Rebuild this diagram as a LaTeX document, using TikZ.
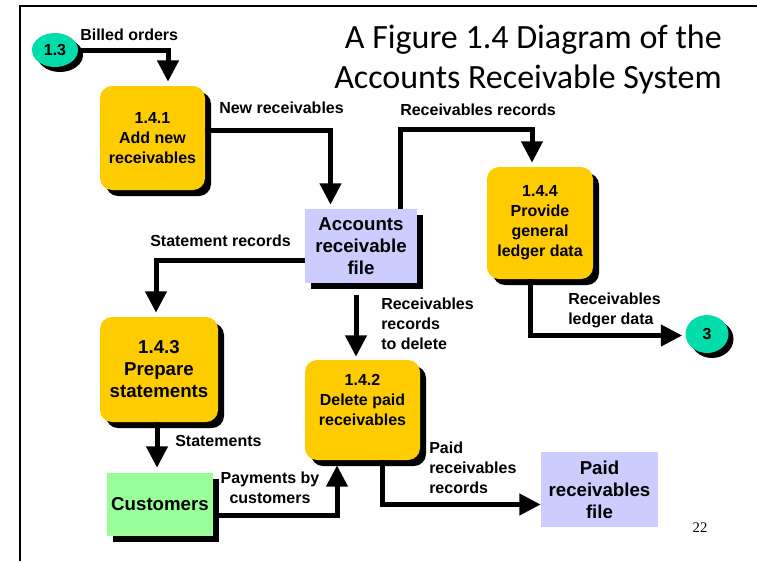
\documentclass[tikz,border=0pt]{standalone}
\usepackage{fontspec}
\setmainfont{Liberation Sans}
\newfontfamily\titlefont{Carlito}
\newfontfamily\pagefont{Liberation Serif}
\usetikzlibrary{arrows.meta,calc,shadows,shapes.geometric}
\definecolor{procyellow}{RGB}{255,204,0}
\definecolor{filelilac}{RGB}{204,204,255}
\definecolor{entgreen}{RGB}{153,255,153}
\definecolor{conteal}{RGB}{0,221,170}

\begin{document}
\begin{tikzpicture}[x=0.75pt,y=-0.75pt,
    drop/.style={general shadow={fill=black,shadow xshift=4.5pt,shadow yshift=-4.5pt}},
    proc/.style={drop,fill=procyellow,rounded corners=9pt,align=center,
      font=\bfseries\fontsize{12}{15}\selectfont},
    store/.style={fill=filelilac,align=center,font=\bfseries\fontsize{14}{16.5}\selectfont},
    conn/.style={ellipse,fill=conteal,inner sep=0pt,
      general shadow={fill=black,shadow xshift=3.75pt,shadow yshift=-3.75pt},
      font=\bfseries\fontsize{12}{14}\selectfont},
    lbl/.style={inner sep=0pt,align=left,font=\bfseries\fontsize{12}{15}\selectfont},
    flow/.style={line width=3.75pt,-{Triangle[width=15.5pt,length=16pt]}}]
  \useasboundingbox (0,0) rectangle (757,561);
  \draw[line width=1.5pt] (20,561) -- (20,6) -- (757,6);

  % title
  \node[anchor=base east,inner sep=0pt,font=\titlefont\fontsize{25.5}{30}\selectfont]
    (ttl1) at (722,48) {A Figure 1.4 Diagram of the};
  \node[anchor=base east,inner sep=0pt,font=\titlefont\fontsize{25.5}{30}\selectfont]
    (ttl2) at (722,88) {Accounts Receivable System};

  % processes, stores, entities
  \node[proc,minimum width=78.75pt,minimum height=78pt] (p141) at (152.5,138)
    {1.4.1\\Add new\\receivables};
  \node[store,drop,minimum width=84pt,minimum height=55.5pt] (arf) at (361,246)
    {Accounts\\receivable\\file};
  \node[proc,minimum width=79.5pt,minimum height=84pt] (p144) at (540,223)
    {1.4.4\\Provide\\general\\ledger data};
  \node[proc,font=\bfseries\fontsize{14}{16.5}\selectfont,minimum width=88.5pt,
    minimum height=78.75pt] (p143) at (159,369.5) {1.4.3\\Prepare\\statements};
  \node[proc,minimum width=86.25pt,minimum height=75pt] (p142) at (362.5,410)
    {1.4.2\\Delete paid\\receivables\\\mbox{}};
  \node[drop,fill=entgreen,font=\bfseries\fontsize{14}{16.5}\selectfont,
    minimum width=79.5pt,minimum height=47.25pt] (cust) at (160,504.5) {Customers};
  \node[store,minimum width=87.75pt,minimum height=56.25pt] (prf) at (599.5,489.5)
    {Paid\\receivables\\file};
  \node[conn,minimum width=34.5pt,minimum height=25.5pt] (c13) at (55,50) {1.3};
  \node[conn,minimum width=32.25pt,minimum height=28.5pt] (c3) at (707,334) {3};

  % data flows
  \draw[flow] (c13.east) -| ($(p141.north)+(15.5,-4)$);
  \draw[flow] ($(p141.east)+(0,-8)$) -| ($(arf.north)+(-30.5,-4)$);
  \draw[flow] ($(arf.north)+(39,0)$) -- ++(0,-79) -| ($(p144.north)+(-8,-4)$);
  \draw[flow] ($(p144.south)+(-10,0)$) |- ($(c3.west)+(-3,1.5)$);
  \draw[flow] ($(arf.west)+(0,14)$) -| ($(p143.north)+(-3,-4)$);
  \draw[flow] ($(p143.south)+(-2,0)$) -- ($(cust.north)+(-3,-5)$);
  \draw[flow] ($(cust.east)+(0,11)$) -| ($(p142.south)+(-25.5,5)$);
  \draw[flow] ($(arf.south)+(-5,12)$) -- ($(p142.north)+(-6.5,-3)$);
  \draw[flow] ($(p142.south)+(19.5,0)$) |- ($(prf.west)+(0,15)$);

  % flow labels
  \node[lbl,anchor=west] (lbo) at (80,35) {Billed orders};
  \node[lbl,anchor=west] (lnr) at (219,108) {New receivables};
  \node[lbl,anchor=west] (lrr) at (400,110) {Receivables records};
  \node[lbl,anchor=west] (lsr) at (150,241) {Statement records};
  \node[lbl,anchor=west] (lrd) at (381,324) {Receivables\\records\\to delete};
  \node[lbl,anchor=west] (lld) at (568,310) {Receivables\\ledger data};
  \node[lbl,anchor=west] (lst) at (175,441) {Statements};
  \node[lbl,align=center] (lpc) at (270,488) {Payments by\\customers};
  \node[lbl,anchor=west] (lpr) at (429,468) {Paid\\receivables\\records};

  \node[font=\pagefont\fontsize{11}{13}\selectfont] (pg) at (700,528) {22};
\end{tikzpicture}
\end{document}
